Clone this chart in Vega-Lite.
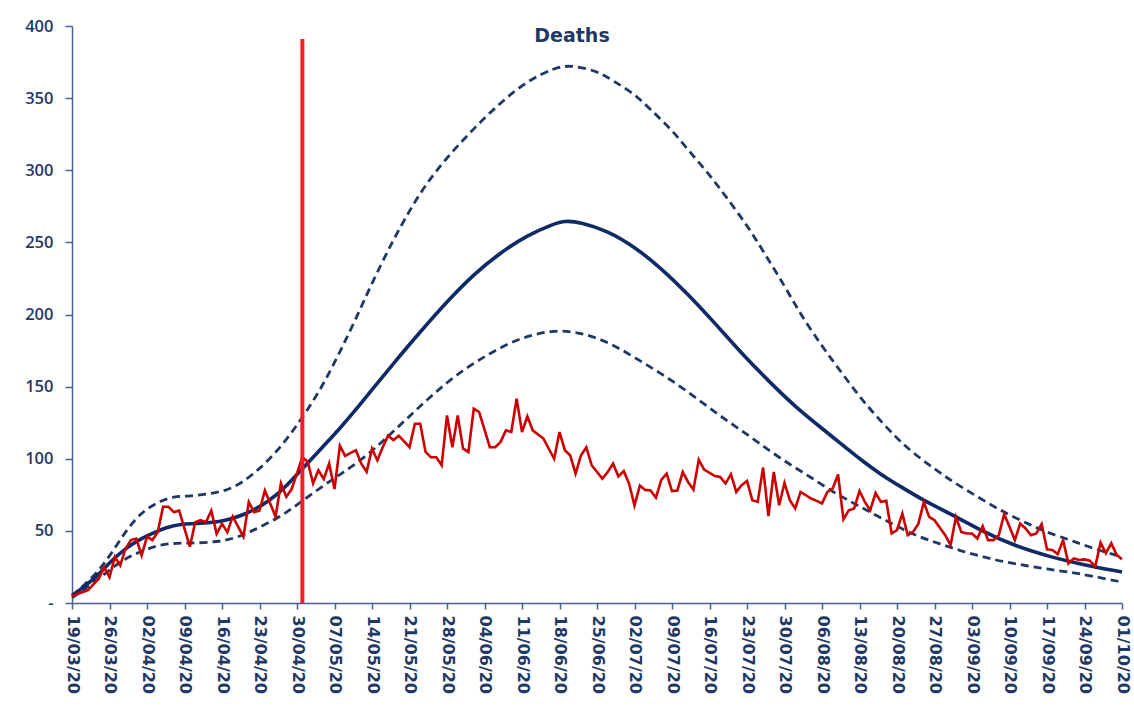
{
  "$schema": "https://vega.github.io/schema/vega-lite/v6.json",
  "width": 1050,
  "height": 577,
  "autosize": {"type": "none"},
  "padding": {"left": 72, "top": 26, "right": 12, "bottom": 105},
  "background": "white",
  "config": {"view": {"stroke": null}},
  "title": {"text": "Deaths", "anchor": "middle", "frame": "group", "offset": -28, "dx": -25, "fontSize": 19, "font": "DejaVu Sans", "fontWeight": "bold", "color": "#1F3864"},
  "datasets": {
    "model": [
      {"date": "2020-03-19", "series": "Central", "value": 5},
      {"date": "2020-03-23", "series": "Central", "value": 16},
      {"date": "2020-03-26", "series": "Central", "value": 28},
      {"date": "2020-03-29", "series": "Central", "value": 38},
      {"date": "2020-04-01", "series": "Central", "value": 45},
      {"date": "2020-04-04", "series": "Central", "value": 50},
      {"date": "2020-04-07", "series": "Central", "value": 54},
      {"date": "2020-04-10", "series": "Central", "value": 55},
      {"date": "2020-04-14", "series": "Central", "value": 55.5},
      {"date": "2020-04-17", "series": "Central", "value": 57.5},
      {"date": "2020-04-20", "series": "Central", "value": 61},
      {"date": "2020-04-23", "series": "Central", "value": 66.5},
      {"date": "2020-04-26", "series": "Central", "value": 74},
      {"date": "2020-04-29", "series": "Central", "value": 85},
      {"date": "2020-05-02", "series": "Central", "value": 97},
      {"date": "2020-05-05", "series": "Central", "value": 109},
      {"date": "2020-05-08", "series": "Central", "value": 121},
      {"date": "2020-05-11", "series": "Central", "value": 134},
      {"date": "2020-05-14", "series": "Central", "value": 148},
      {"date": "2020-05-18", "series": "Central", "value": 166},
      {"date": "2020-05-23", "series": "Central", "value": 188},
      {"date": "2020-05-28", "series": "Central", "value": 209},
      {"date": "2020-06-02", "series": "Central", "value": 228},
      {"date": "2020-06-07", "series": "Central", "value": 243},
      {"date": "2020-06-12", "series": "Central", "value": 255},
      {"date": "2020-06-17", "series": "Central", "value": 263},
      {"date": "2020-06-19", "series": "Central", "value": 265},
      {"date": "2020-06-22", "series": "Central", "value": 264},
      {"date": "2020-06-27", "series": "Central", "value": 258},
      {"date": "2020-07-02", "series": "Central", "value": 247},
      {"date": "2020-07-07", "series": "Central", "value": 232},
      {"date": "2020-07-12", "series": "Central", "value": 214},
      {"date": "2020-07-17", "series": "Central", "value": 194},
      {"date": "2020-07-22", "series": "Central", "value": 173},
      {"date": "2020-07-27", "series": "Central", "value": 154},
      {"date": "2020-08-01", "series": "Central", "value": 136},
      {"date": "2020-08-06", "series": "Central", "value": 121},
      {"date": "2020-08-09", "series": "Central", "value": 112},
      {"date": "2020-08-13", "series": "Central", "value": 100},
      {"date": "2020-08-17", "series": "Central", "value": 89},
      {"date": "2020-08-21", "series": "Central", "value": 80},
      {"date": "2020-08-25", "series": "Central", "value": 71},
      {"date": "2020-08-31", "series": "Central", "value": 60},
      {"date": "2020-09-05", "series": "Central", "value": 49.5},
      {"date": "2020-09-11", "series": "Central", "value": 39.5},
      {"date": "2020-09-18", "series": "Central", "value": 31.5},
      {"date": "2020-09-24", "series": "Central", "value": 26.3},
      {"date": "2020-10-01", "series": "Central", "value": 21.5},

      {"date": "2020-03-19", "series": "Upper", "value": 5},
      {"date": "2020-03-23", "series": "Upper", "value": 18},
      {"date": "2020-03-26", "series": "Upper", "value": 32},
      {"date": "2020-03-29", "series": "Upper", "value": 50},
      {"date": "2020-04-01", "series": "Upper", "value": 63},
      {"date": "2020-04-04", "series": "Upper", "value": 70},
      {"date": "2020-04-07", "series": "Upper", "value": 74},
      {"date": "2020-04-10", "series": "Upper", "value": 74},
      {"date": "2020-04-14", "series": "Upper", "value": 76},
      {"date": "2020-04-17", "series": "Upper", "value": 78},
      {"date": "2020-04-20", "series": "Upper", "value": 84},
      {"date": "2020-04-23", "series": "Upper", "value": 93},
      {"date": "2020-04-26", "series": "Upper", "value": 104},
      {"date": "2020-04-29", "series": "Upper", "value": 118},
      {"date": "2020-05-02", "series": "Upper", "value": 134},
      {"date": "2020-05-05", "series": "Upper", "value": 152},
      {"date": "2020-05-08", "series": "Upper", "value": 174},
      {"date": "2020-05-11", "series": "Upper", "value": 197},
      {"date": "2020-05-14", "series": "Upper", "value": 222},
      {"date": "2020-05-18", "series": "Upper", "value": 252},
      {"date": "2020-05-21", "series": "Upper", "value": 272},
      {"date": "2020-05-24", "series": "Upper", "value": 290},
      {"date": "2020-05-28", "series": "Upper", "value": 309},
      {"date": "2020-06-02", "series": "Upper", "value": 329},
      {"date": "2020-06-07", "series": "Upper", "value": 347},
      {"date": "2020-06-12", "series": "Upper", "value": 362},
      {"date": "2020-06-17", "series": "Upper", "value": 371},
      {"date": "2020-06-20", "series": "Upper", "value": 373},
      {"date": "2020-06-25", "series": "Upper", "value": 369},
      {"date": "2020-06-28", "series": "Upper", "value": 362},
      {"date": "2020-07-02", "series": "Upper", "value": 353},
      {"date": "2020-07-05", "series": "Upper", "value": 342},
      {"date": "2020-07-09", "series": "Upper", "value": 328},
      {"date": "2020-07-12", "series": "Upper", "value": 314},
      {"date": "2020-07-16", "series": "Upper", "value": 297},
      {"date": "2020-07-19", "series": "Upper", "value": 282},
      {"date": "2020-07-23", "series": "Upper", "value": 262},
      {"date": "2020-07-26", "series": "Upper", "value": 244},
      {"date": "2020-07-30", "series": "Upper", "value": 220},
      {"date": "2020-08-02", "series": "Upper", "value": 200},
      {"date": "2020-08-06", "series": "Upper", "value": 178},
      {"date": "2020-08-09", "series": "Upper", "value": 163},
      {"date": "2020-08-13", "series": "Upper", "value": 143},
      {"date": "2020-08-16", "series": "Upper", "value": 130},
      {"date": "2020-08-20", "series": "Upper", "value": 114},
      {"date": "2020-08-23", "series": "Upper", "value": 104},
      {"date": "2020-08-27", "series": "Upper", "value": 93},
      {"date": "2020-08-30", "series": "Upper", "value": 85},
      {"date": "2020-09-03", "series": "Upper", "value": 76},
      {"date": "2020-09-07", "series": "Upper", "value": 67},
      {"date": "2020-09-10", "series": "Upper", "value": 61},
      {"date": "2020-09-14", "series": "Upper", "value": 54},
      {"date": "2020-09-17", "series": "Upper", "value": 49},
      {"date": "2020-09-21", "series": "Upper", "value": 44},
      {"date": "2020-09-24", "series": "Upper", "value": 40},
      {"date": "2020-09-28", "series": "Upper", "value": 35},
      {"date": "2020-10-01", "series": "Upper", "value": 32},

      {"date": "2020-03-19", "series": "Lower", "value": 3.5},
      {"date": "2020-03-23", "series": "Lower", "value": 14},
      {"date": "2020-03-26", "series": "Lower", "value": 23},
      {"date": "2020-03-29", "series": "Lower", "value": 31},
      {"date": "2020-04-01", "series": "Lower", "value": 36},
      {"date": "2020-04-04", "series": "Lower", "value": 40},
      {"date": "2020-04-07", "series": "Lower", "value": 41.5},
      {"date": "2020-04-10", "series": "Lower", "value": 41.5},
      {"date": "2020-04-14", "series": "Lower", "value": 42},
      {"date": "2020-04-17", "series": "Lower", "value": 43.6},
      {"date": "2020-04-20", "series": "Lower", "value": 47},
      {"date": "2020-04-23", "series": "Lower", "value": 52.6},
      {"date": "2020-04-27", "series": "Lower", "value": 60},
      {"date": "2020-04-30", "series": "Lower", "value": 68},
      {"date": "2020-05-04", "series": "Lower", "value": 79},
      {"date": "2020-05-08", "series": "Lower", "value": 89},
      {"date": "2020-05-12", "series": "Lower", "value": 99},
      {"date": "2020-05-16", "series": "Lower", "value": 112},
      {"date": "2020-05-20", "series": "Lower", "value": 126},
      {"date": "2020-05-24", "series": "Lower", "value": 140},
      {"date": "2020-05-28", "series": "Lower", "value": 153},
      {"date": "2020-06-01", "series": "Lower", "value": 164},
      {"date": "2020-06-05", "series": "Lower", "value": 173},
      {"date": "2020-06-09", "series": "Lower", "value": 181},
      {"date": "2020-06-13", "series": "Lower", "value": 186},
      {"date": "2020-06-17", "series": "Lower", "value": 189},
      {"date": "2020-06-21", "series": "Lower", "value": 188},
      {"date": "2020-06-25", "series": "Lower", "value": 184},
      {"date": "2020-06-29", "series": "Lower", "value": 177},
      {"date": "2020-07-03", "series": "Lower", "value": 168},
      {"date": "2020-07-07", "series": "Lower", "value": 159},
      {"date": "2020-07-11", "series": "Lower", "value": 149},
      {"date": "2020-07-15", "series": "Lower", "value": 138},
      {"date": "2020-07-19", "series": "Lower", "value": 127},
      {"date": "2020-07-23", "series": "Lower", "value": 117},
      {"date": "2020-07-27", "series": "Lower", "value": 106},
      {"date": "2020-07-31", "series": "Lower", "value": 96},
      {"date": "2020-08-04", "series": "Lower", "value": 87},
      {"date": "2020-08-08", "series": "Lower", "value": 77},
      {"date": "2020-08-12", "series": "Lower", "value": 69},
      {"date": "2020-08-16", "series": "Lower", "value": 61},
      {"date": "2020-08-20", "series": "Lower", "value": 53},
      {"date": "2020-08-24", "series": "Lower", "value": 46},
      {"date": "2020-08-28", "series": "Lower", "value": 41},
      {"date": "2020-09-01", "series": "Lower", "value": 36},
      {"date": "2020-09-05", "series": "Lower", "value": 32},
      {"date": "2020-09-09", "series": "Lower", "value": 28.5},
      {"date": "2020-09-13", "series": "Lower", "value": 26},
      {"date": "2020-09-17", "series": "Lower", "value": 23.5},
      {"date": "2020-09-21", "series": "Lower", "value": 21.5},
      {"date": "2020-09-25", "series": "Lower", "value": 19},
      {"date": "2020-10-01", "series": "Lower", "value": 14.5}
    ],
    "observed": [
      {"date": "2020-03-19", "deaths": 4.8}, {"date": "2020-03-20", "deaths": 6.2}, {"date": "2020-03-22", "deaths": 9},
      {"date": "2020-03-24", "deaths": 17}, {"date": "2020-03-25", "deaths": 24.7}, {"date": "2020-03-26", "deaths": 17.8},
      {"date": "2020-03-27", "deaths": 32}, {"date": "2020-03-28", "deaths": 26}, {"date": "2020-03-29", "deaths": 37.8},
      {"date": "2020-03-30", "deaths": 43.6}, {"date": "2020-03-31", "deaths": 44.7}, {"date": "2020-04-01", "deaths": 33},
      {"date": "2020-04-02", "deaths": 46}, {"date": "2020-04-03", "deaths": 43.6}, {"date": "2020-04-04", "deaths": 49},
      {"date": "2020-04-05", "deaths": 66.7}, {"date": "2020-04-06", "deaths": 66.7}, {"date": "2020-04-07", "deaths": 63},
      {"date": "2020-04-08", "deaths": 64}, {"date": "2020-04-10", "deaths": 39}, {"date": "2020-04-11", "deaths": 56},
      {"date": "2020-04-12", "deaths": 57.4}, {"date": "2020-04-13", "deaths": 56}, {"date": "2020-04-14", "deaths": 64},
      {"date": "2020-04-15", "deaths": 48}, {"date": "2020-04-16", "deaths": 55}, {"date": "2020-04-17", "deaths": 49},
      {"date": "2020-04-18", "deaths": 60}, {"date": "2020-04-19", "deaths": 53}, {"date": "2020-04-20", "deaths": 46},
      {"date": "2020-04-21", "deaths": 70}, {"date": "2020-04-22", "deaths": 63}, {"date": "2020-04-23", "deaths": 64},
      {"date": "2020-04-24", "deaths": 78}, {"date": "2020-04-25", "deaths": 69}, {"date": "2020-04-26", "deaths": 59.9},
      {"date": "2020-04-27", "deaths": 83}, {"date": "2020-04-28", "deaths": 73.6}, {"date": "2020-04-29", "deaths": 79},
      {"date": "2020-04-30", "deaths": 90}, {"date": "2020-05-01", "deaths": 101}, {"date": "2020-05-02", "deaths": 98},
      {"date": "2020-05-03", "deaths": 83}, {"date": "2020-05-04", "deaths": 92}, {"date": "2020-05-05", "deaths": 86},
      {"date": "2020-05-06", "deaths": 96.6}, {"date": "2020-05-07", "deaths": 79}, {"date": "2020-05-08", "deaths": 109},
      {"date": "2020-05-09", "deaths": 102}, {"date": "2020-05-10", "deaths": 104}, {"date": "2020-05-11", "deaths": 105.9},
      {"date": "2020-05-12", "deaths": 96.6}, {"date": "2020-05-13", "deaths": 91}, {"date": "2020-05-14", "deaths": 107},
      {"date": "2020-05-15", "deaths": 99}, {"date": "2020-05-16", "deaths": 108}, {"date": "2020-05-17", "deaths": 116},
      {"date": "2020-05-18", "deaths": 113}, {"date": "2020-05-19", "deaths": 116}, {"date": "2020-05-20", "deaths": 112},
      {"date": "2020-05-21", "deaths": 108}, {"date": "2020-05-22", "deaths": 124.3}, {"date": "2020-05-23", "deaths": 124.3},
      {"date": "2020-05-24", "deaths": 104.7}, {"date": "2020-05-25", "deaths": 101}, {"date": "2020-05-26", "deaths": 101},
      {"date": "2020-05-27", "deaths": 95.5}, {"date": "2020-05-28", "deaths": 130}, {"date": "2020-05-29", "deaths": 108},
      {"date": "2020-05-30", "deaths": 130}, {"date": "2020-05-31", "deaths": 107}, {"date": "2020-06-01", "deaths": 104.7},
      {"date": "2020-06-02", "deaths": 134.7}, {"date": "2020-06-03", "deaths": 132.4}, {"date": "2020-06-05", "deaths": 108},
      {"date": "2020-06-06", "deaths": 108}, {"date": "2020-06-07", "deaths": 111.7}, {"date": "2020-06-08", "deaths": 119.7},
      {"date": "2020-06-09", "deaths": 118.5}, {"date": "2020-06-10", "deaths": 141.7}, {"date": "2020-06-11", "deaths": 118.5},
      {"date": "2020-06-12", "deaths": 129.4}, {"date": "2020-06-13", "deaths": 119.7}, {"date": "2020-06-15", "deaths": 114},
      {"date": "2020-06-17", "deaths": 100}, {"date": "2020-06-18", "deaths": 118.5}, {"date": "2020-06-19", "deaths": 105.9},
      {"date": "2020-06-20", "deaths": 102.3}, {"date": "2020-06-21", "deaths": 89.7}, {"date": "2020-06-22", "deaths": 102.3},
      {"date": "2020-06-23", "deaths": 108}, {"date": "2020-06-24", "deaths": 95.5}, {"date": "2020-06-26", "deaths": 86.2},
      {"date": "2020-06-27", "deaths": 90.8}, {"date": "2020-06-28", "deaths": 96.6}, {"date": "2020-06-29", "deaths": 87.7},
      {"date": "2020-06-30", "deaths": 91.4}, {"date": "2020-07-01", "deaths": 82.6}, {"date": "2020-07-02", "deaths": 67.6},
      {"date": "2020-07-03", "deaths": 81.4}, {"date": "2020-07-04", "deaths": 78.4}, {"date": "2020-07-05", "deaths": 78},
      {"date": "2020-07-06", "deaths": 73}, {"date": "2020-07-07", "deaths": 85.4}, {"date": "2020-07-08", "deaths": 89.7},
      {"date": "2020-07-09", "deaths": 77.6}, {"date": "2020-07-10", "deaths": 78}, {"date": "2020-07-11", "deaths": 90.8},
      {"date": "2020-07-12", "deaths": 83.9}, {"date": "2020-07-13", "deaths": 78.6}, {"date": "2020-07-14", "deaths": 99.4},
      {"date": "2020-07-15", "deaths": 92.5}, {"date": "2020-07-17", "deaths": 88}, {"date": "2020-07-18", "deaths": 87.4},
      {"date": "2020-07-19", "deaths": 82.8}, {"date": "2020-07-20", "deaths": 89.3}, {"date": "2020-07-21", "deaths": 77},
      {"date": "2020-07-22", "deaths": 81.6}, {"date": "2020-07-23", "deaths": 84.6}, {"date": "2020-07-24", "deaths": 71.3},
      {"date": "2020-07-25", "deaths": 70.1}, {"date": "2020-07-26", "deaths": 93.9}, {"date": "2020-07-27", "deaths": 60.2},
      {"date": "2020-07-28", "deaths": 90.9}, {"date": "2020-07-29", "deaths": 67.8}, {"date": "2020-07-30", "deaths": 83.2},
      {"date": "2020-07-31", "deaths": 71.3}, {"date": "2020-08-01", "deaths": 65.5}, {"date": "2020-08-02", "deaths": 77},
      {"date": "2020-08-04", "deaths": 72.4}, {"date": "2020-08-05", "deaths": 70.8}, {"date": "2020-08-06", "deaths": 69},
      {"date": "2020-08-07", "deaths": 77}, {"date": "2020-08-08", "deaths": 79.4}, {"date": "2020-08-09", "deaths": 89.1},
      {"date": "2020-08-10", "deaths": 58}, {"date": "2020-08-11", "deaths": 64.3}, {"date": "2020-08-12", "deaths": 65.5},
      {"date": "2020-08-13", "deaths": 77.7}, {"date": "2020-08-14", "deaths": 70.1}, {"date": "2020-08-15", "deaths": 64.3},
      {"date": "2020-08-16", "deaths": 76.3}, {"date": "2020-08-17", "deaths": 70.1}, {"date": "2020-08-18", "deaths": 70.8},
      {"date": "2020-08-19", "deaths": 48.2}, {"date": "2020-08-20", "deaths": 50.5}, {"date": "2020-08-21", "deaths": 62},
      {"date": "2020-08-22", "deaths": 47}, {"date": "2020-08-23", "deaths": 49.3}, {"date": "2020-08-24", "deaths": 55},
      {"date": "2020-08-25", "deaths": 70}, {"date": "2020-08-26", "deaths": 59.7}, {"date": "2020-08-27", "deaths": 57.4},
      {"date": "2020-08-29", "deaths": 47}, {"date": "2020-08-30", "deaths": 40.1}, {"date": "2020-08-31", "deaths": 59.7},
      {"date": "2020-09-01", "deaths": 49.3}, {"date": "2020-09-02", "deaths": 48.2}, {"date": "2020-09-03", "deaths": 48.2},
      {"date": "2020-09-04", "deaths": 44.7}, {"date": "2020-09-05", "deaths": 53.3}, {"date": "2020-09-06", "deaths": 43.6},
      {"date": "2020-09-07", "deaths": 43.6}, {"date": "2020-09-08", "deaths": 47}, {"date": "2020-09-09", "deaths": 61.6},
      {"date": "2020-09-10", "deaths": 52.8}, {"date": "2020-09-11", "deaths": 43.6}, {"date": "2020-09-12", "deaths": 55.1},
      {"date": "2020-09-13", "deaths": 51.7}, {"date": "2020-09-14", "deaths": 47}, {"date": "2020-09-15", "deaths": 48.2},
      {"date": "2020-09-16", "deaths": 54.7}, {"date": "2020-09-17", "deaths": 37.2}, {"date": "2020-09-18", "deaths": 36.7},
      {"date": "2020-09-19", "deaths": 33.9}, {"date": "2020-09-20", "deaths": 43.6}, {"date": "2020-09-21", "deaths": 27.4},
      {"date": "2020-09-22", "deaths": 30.9}, {"date": "2020-09-23", "deaths": 29.8}, {"date": "2020-09-24", "deaths": 30.2},
      {"date": "2020-09-25", "deaths": 29.3}, {"date": "2020-09-26", "deaths": 25.2}, {"date": "2020-09-27", "deaths": 41.9},
      {"date": "2020-09-28", "deaths": 34.5}, {"date": "2020-09-29", "deaths": 41.5}, {"date": "2020-09-30", "deaths": 33.4},
      {"date": "2020-10-01", "deaths": 30.3}
    ],
    "marker": [{"date": "2020-05-01", "label": "lockdown review"}]
  },
  "layer": [
    {
      "data": {"name": "model"},
      "transform": [{"filter": "datum.series !== 'Central'"}],
      "mark": {"type": "line", "color": "#1F3864", "strokeWidth": 2.8, "strokeDash": [8, 5], "interpolate": "basis"},
      "encoding": {
        "x": {
          "field": "date", "type": "temporal",
          "scale": {"type": "utc", "domain": [{"year": 2020, "month": 3, "date": 19, "utc": true}, {"year": 2020, "month": 10, "date": 1, "utc": true}]},
          "axis": {
            "title": null, "grid": false, "format": "%d/%m/%y", "tickCount": 100,
            "values": [
              {"year": 2020, "month": 3, "date": 19, "utc": true}, {"year": 2020, "month": 3, "date": 26, "utc": true},
              {"year": 2020, "month": 4, "date": 2, "utc": true}, {"year": 2020, "month": 4, "date": 9, "utc": true},
              {"year": 2020, "month": 4, "date": 16, "utc": true}, {"year": 2020, "month": 4, "date": 23, "utc": true},
              {"year": 2020, "month": 4, "date": 30, "utc": true}, {"year": 2020, "month": 5, "date": 7, "utc": true},
              {"year": 2020, "month": 5, "date": 14, "utc": true}, {"year": 2020, "month": 5, "date": 21, "utc": true},
              {"year": 2020, "month": 5, "date": 28, "utc": true}, {"year": 2020, "month": 6, "date": 4, "utc": true},
              {"year": 2020, "month": 6, "date": 11, "utc": true}, {"year": 2020, "month": 6, "date": 18, "utc": true},
              {"year": 2020, "month": 6, "date": 25, "utc": true}, {"year": 2020, "month": 7, "date": 2, "utc": true},
              {"year": 2020, "month": 7, "date": 9, "utc": true}, {"year": 2020, "month": 7, "date": 16, "utc": true},
              {"year": 2020, "month": 7, "date": 23, "utc": true}, {"year": 2020, "month": 7, "date": 30, "utc": true},
              {"year": 2020, "month": 8, "date": 6, "utc": true}, {"year": 2020, "month": 8, "date": 13, "utc": true},
              {"year": 2020, "month": 8, "date": 20, "utc": true}, {"year": 2020, "month": 8, "date": 27, "utc": true},
              {"year": 2020, "month": 9, "date": 3, "utc": true}, {"year": 2020, "month": 9, "date": 10, "utc": true},
              {"year": 2020, "month": 9, "date": 17, "utc": true}, {"year": 2020, "month": 9, "date": 24, "utc": true},
              {"year": 2020, "month": 10, "date": 1, "utc": true}
            ],
            "labelAngle": 90, "labelAlign": "left", "labelBaseline": "middle",
            "labelFont": "DejaVu Sans", "labelFontSize": 16, "labelFontWeight": "bold", "labelColor": "#1F3864",
            "labelOverlap": false, "labelFlush": false, "labelPadding": 6,
            "domainColor": "#4A6090", "domainWidth": 1.5, "tickColor": "#4A6090", "tickWidth": 1.5, "tickSize": 6
          }
        },
        "y": {
          "field": "value", "type": "quantitative",
          "scale": {"domain": [0, 400], "nice": false, "zero": true},
          "axis": {
            "title": null, "grid": false,
            "values": [0, 50, 100, 150, 200, 250, 300, 350, 400],
            "labelExpr": "datum.value === 0 ? '-' : datum.label",
            "labelFont": "Open Sans", "labelFontSize": 16.5, "labelFontWeight": 600, "labelColor": "#1F3864",
            "labelPadding": 12,
            "domainColor": "#4A6090", "domainWidth": 1.5, "tickColor": "#4A6090", "tickWidth": 1.5, "tickSize": 7
          }
        },
        "detail": {"field": "series", "type": "nominal"}
      }
    },
    {
      "data": {"name": "model"},
      "transform": [{"filter": "datum.series === 'Central'"}],
      "mark": {"type": "line", "color": "#0F2A66", "strokeWidth": 3.6, "interpolate": "basis"},
      "encoding": {
        "x": {"field": "date", "type": "temporal"},
        "y": {"field": "value", "type": "quantitative"}
      }
    },
    {
      "data": {"name": "observed"},
      "mark": {"type": "line", "color": "#CC0000", "strokeWidth": 2.6},
      "encoding": {
        "x": {"field": "date", "type": "temporal"},
        "y": {"field": "deaths", "type": "quantitative"}
      }
    },
    {
      "data": {"name": "marker"},
      "mark": {"type": "rule", "color": "#F02028", "strokeWidth": 4},
      "encoding": {
        "x": {"field": "date", "type": "temporal"},
        "y": {"datum": 0},
        "y2": {"datum": 391}
      }
    }
  ]
}
